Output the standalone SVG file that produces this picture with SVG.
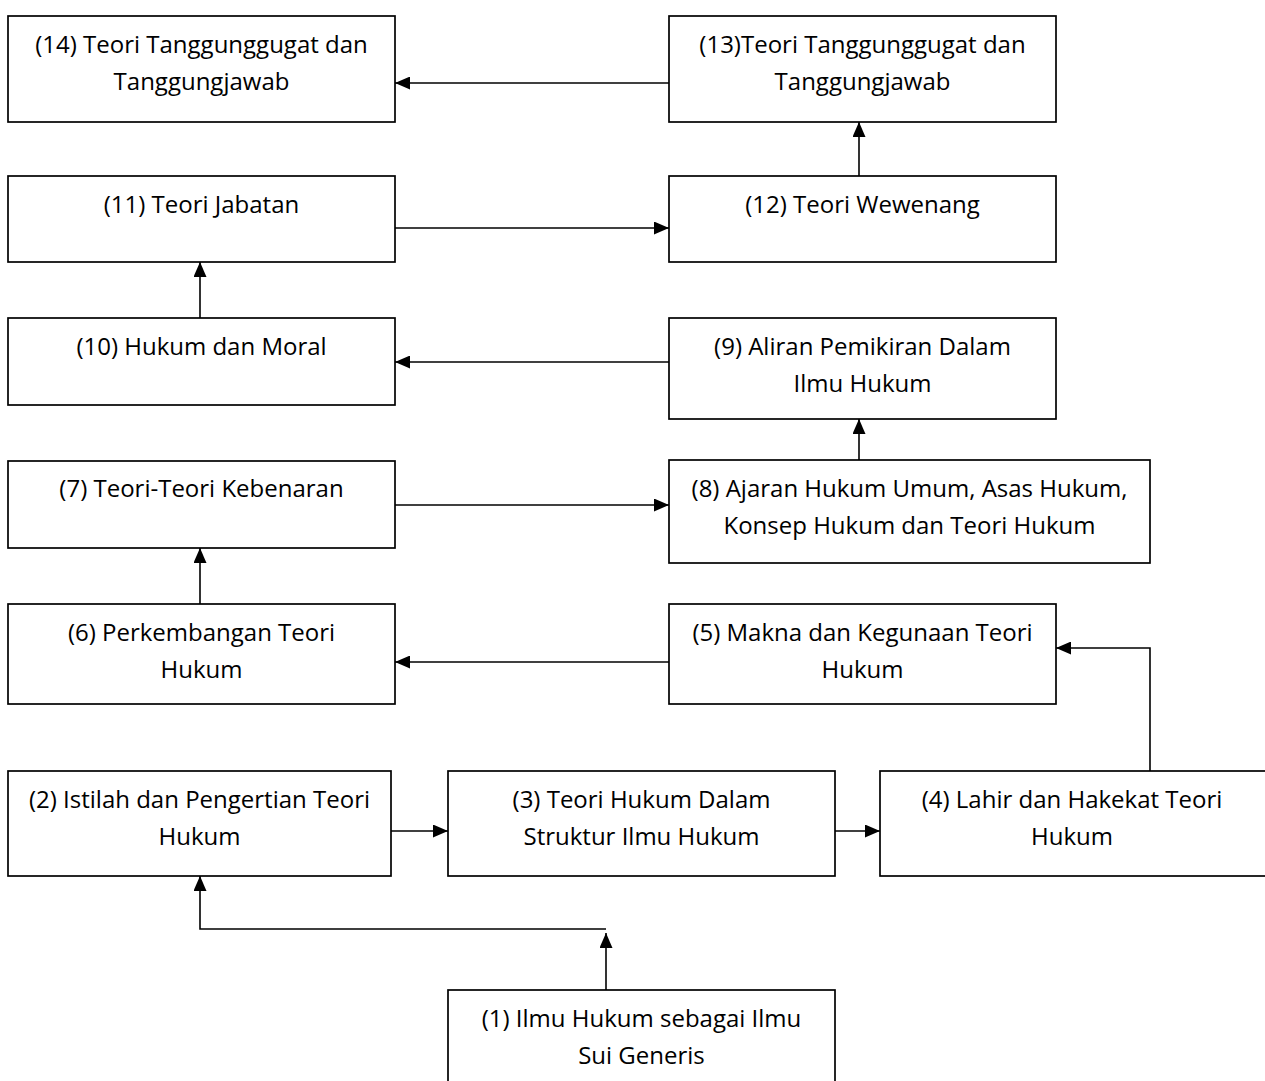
<svg xmlns="http://www.w3.org/2000/svg" width="1265" height="1081" viewBox="0 0 1265 1081">
<style>
.box{fill:#fff;stroke:#000;stroke-width:1.7}
.t{font-family:"Open Sans","Noto Sans",sans-serif;font-size:24px;fill:#000;text-anchor:middle}
.c{fill:none;stroke:#000;stroke-width:1.6}
</style>
<defs>
<marker id="ah" markerUnits="userSpaceOnUse" markerWidth="15" markerHeight="13" refX="15" refY="6.5" orient="auto">
<path d="M0,0 L15,6.5 L0,13 z" fill="#000"/>
</marker>
</defs>
<rect width="1265" height="1081" fill="#fff"/>
<g id="n14"><rect class="box" x="8" y="16" width="387" height="106"/><text class="t" x="201.5" y="53">(14) Teori Tanggunggugat dan</text><text class="t" x="201.5" y="90">Tanggungjawab</text></g>
<g id="n13"><rect class="box" x="669" y="16" width="387" height="106"/><text class="t" x="862.5" y="53">(13)Teori Tanggunggugat dan</text><text class="t" x="862.5" y="90">Tanggungjawab</text></g>
<g id="n11"><rect class="box" x="8" y="176" width="387" height="86"/><text class="t" x="201.5" y="213">(11) Teori Jabatan</text></g>
<g id="n12"><rect class="box" x="669" y="176" width="387" height="86"/><text class="t" x="862.5" y="213">(12) Teori Wewenang</text></g>
<g id="n10"><rect class="box" x="8" y="318" width="387" height="87"/><text class="t" x="201.5" y="355">(10) Hukum dan Moral</text></g>
<g id="n9"><rect class="box" x="669" y="318" width="387" height="101"/><text class="t" x="862.5" y="355">(9) Aliran Pemikiran Dalam</text><text class="t" x="862.5" y="392">Ilmu Hukum</text></g>
<g id="n7"><rect class="box" x="8" y="461" width="387" height="87"/><text class="t" x="201.5" y="497">(7) Teori-Teori Kebenaran</text></g>
<g id="n8"><rect class="box" x="669" y="460" width="481" height="103"/><text class="t" x="909.5" y="497">(8) Ajaran Hukum Umum, Asas Hukum,</text><text class="t" x="909.5" y="534">Konsep Hukum dan Teori Hukum</text></g>
<g id="n6"><rect class="box" x="8" y="604" width="387" height="100"/><text class="t" x="201.5" y="641">(6) Perkembangan Teori</text><text class="t" x="201.5" y="678">Hukum</text></g>
<g id="n5"><rect class="box" x="669" y="604" width="387" height="100"/><text class="t" x="862.5" y="641">(5) Makna dan Kegunaan Teori</text><text class="t" x="862.5" y="678">Hukum</text></g>
<g id="n2"><rect class="box" x="8" y="771" width="383" height="105"/><text class="t" x="199.5" y="808">(2) Istilah dan Pengertian Teori</text><text class="t" x="199.5" y="845">Hukum</text></g>
<g id="n3"><rect class="box" x="448" y="771" width="387" height="105"/><text class="t" x="641.5" y="808">(3) Teori Hukum Dalam</text><text class="t" x="641.5" y="845">Struktur Ilmu Hukum</text></g>
<g id="n4"><rect class="box" x="880" y="771" width="390" height="105"/><text class="t" x="1072" y="808">(4) Lahir dan Hakekat Teori</text><text class="t" x="1072" y="845">Hukum</text></g>
<g id="n1"><rect class="box" x="448" y="990" width="387" height="100"/><text class="t" x="641.5" y="1027">(1) Ilmu Hukum sebagai Ilmu</text><text class="t" x="641.5" y="1064">Sui Generis</text></g>
<g id="connectors">
<path class="c" d="M669,83 H395" marker-end="url(#ah)"/>
<path class="c" d="M859,176 V122" marker-end="url(#ah)"/>
<path class="c" d="M395,228 H669" marker-end="url(#ah)"/>
<path class="c" d="M200,318 V262" marker-end="url(#ah)"/>
<path class="c" d="M669,362 H395" marker-end="url(#ah)"/>
<path class="c" d="M859,460 V419" marker-end="url(#ah)"/>
<path class="c" d="M395,505 H669" marker-end="url(#ah)"/>
<path class="c" d="M200,604 V548" marker-end="url(#ah)"/>
<path class="c" d="M669,662 H395" marker-end="url(#ah)"/>
<path class="c" d="M1150,771 V648 H1056" marker-end="url(#ah)"/>
<path class="c" d="M391,831 H448" marker-end="url(#ah)"/>
<path class="c" d="M835,831 H880" marker-end="url(#ah)"/>
<path class="c" d="M606,990 V933" marker-end="url(#ah)"/>
<path class="c" d="M606,929 H200 V876" marker-end="url(#ah)"/>
</g>
</svg>
